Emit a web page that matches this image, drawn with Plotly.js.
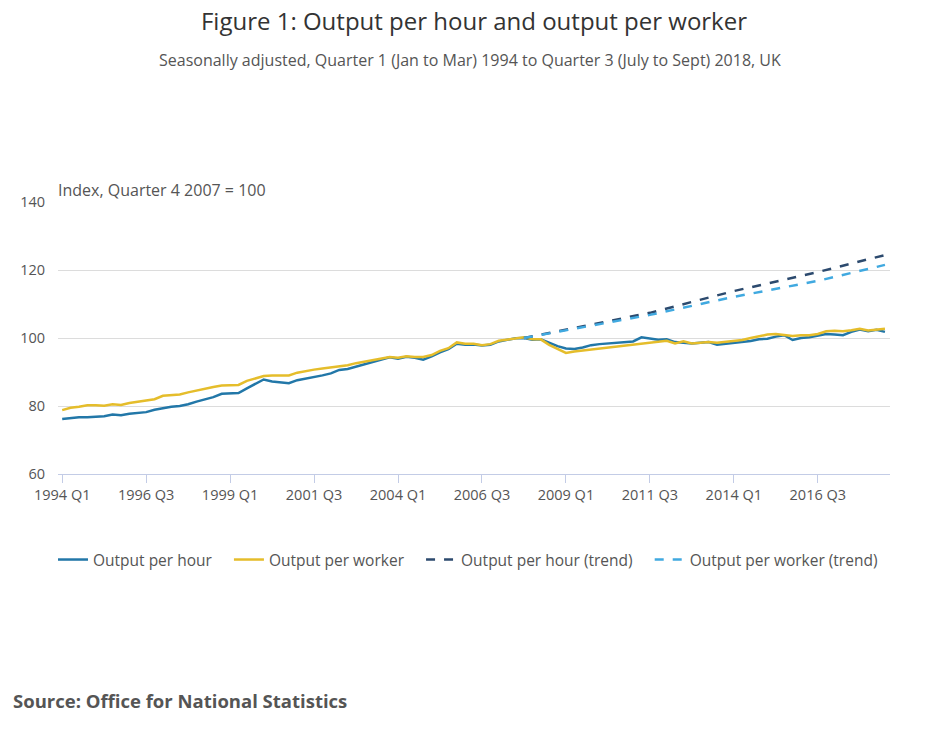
<!DOCTYPE html>
<html>
<head>
<meta charset="utf-8">
<script src="https://cdn.plot.ly/plotly-3.0.1.min.js"></script>
<style>
  html, body { margin: 0; padding: 0; background: #fff; }
  #chart { width: 941px; height: 738px; }
</style>
</head>
<body>
<div id="chart"></div>
<script>
// Quarter categories, 1994 Q1 to 2018 Q3
const startYear = 1994;
const quarters = [];
for (let y = startYear; y <= 2018; y++) {
  for (let q = 1; q <= 4; q++) {
    if (y === 2018 && q > 3) break;
    quarters.push(y + " Q" + q);
  }
}

const tickLabels = ["1994 Q1", "1996 Q3", "1999 Q1", "2001 Q3", "2004 Q1",
                    "2006 Q3", "2009 Q1", "2011 Q3", "2014 Q1", "2016 Q3"];

// Index, Quarter 4 2007 = 100
const outputPerHour = [
  76.2, 76.5, 76.7, 76.7, 76.9, 77.0, 77.5, 77.3, 77.7, 77.9,
  78.2, 78.9, 79.4, 79.8, 80.0, 80.5, 81.3, 82.0, 82.6, 83.6,
  83.7, 83.8, 85.2, 86.5, 87.8, 87.2, 87.0, 86.7, 87.6, 88.0,
  88.5, 89.0, 89.6, 90.6, 90.9, 91.6, 92.3, 93.0, 93.6, 94.3,
  93.9, 94.5, 94.2, 93.6, 94.6, 95.8, 96.7, 98.3, 98.0, 98.1,
  97.8, 98.0, 99.0, 99.4, 99.9, 100.0, 99.5, 99.6, 98.6, 97.6,
  96.9, 96.8, 97.2, 97.9, 98.2, 98.4, 98.6, 98.6, 99.0, 100.2,
  99.8, 99.5, 99.6, 98.8, 98.6, 98.4, 98.6, 98.8, 98.0, 98.3,
  98.6, 98.7, 99.1, 99.6, 99.8, 100.4, 100.8, 99.4, 100.0, 100.2,
  100.6, 101.2, 101.0, 100.8, 101.8, 102.5, 102.0, 102.4, 101.8
];

const outputPerWorker = [
  78.8, 79.5, 79.8, 80.2, 80.2, 80.1, 80.5, 80.3, 80.9, 81.2,
  81.6, 82.0, 83.0, 83.2, 83.4, 84.0, 84.6, 85.2, 85.6, 86.0,
  86.1, 86.2, 87.4, 88.2, 88.8, 89.0, 89.0, 89.0, 89.8, 90.3,
  90.7, 91.0, 91.3, 91.7, 92.0, 92.6, 93.1, 93.6, 94.0, 94.4,
  94.2, 94.6, 94.4, 94.4, 95.0, 96.2, 97.0, 98.7, 98.3, 98.3,
  97.9, 98.2, 99.2, 99.6, 100.0, 100.2, 99.6, 99.6, 98.0, 96.8,
  95.6, 96.0, 96.3, 96.5, 96.9, 97.2, 97.6, 97.9, 98.1, 98.4,
  98.8, 98.9, 99.2, 98.4, 99.0, 98.4, 98.7, 98.8, 98.6, 98.8,
  99.1, 99.4, 100.0, 100.6, 101.0, 101.2, 101.0, 100.6, 100.8, 100.8,
  101.2, 102.0, 102.1, 102.0, 102.3, 102.7, 102.2, 102.5, 102.7
];

// Trend lines (read at labelled points)
const trendQuarters = ["2007 Q4", "2011 Q3", "2014 Q1", "2016 Q3", "2018 Q3"];
const trendPerHour   = [100.0, 107.4, 113.8, 119.4, 124.4];
const trendPerWorker = [100.0, 106.8, 112.1, 116.8, 121.5];

const seriesNames = ["Output per hour", "Output per worker",
                     "Output per hour (trend)", "Output per worker (trend)"];

const textColor = "#555555";
const font = "'Open Sans', 'Noto Sans', sans-serif";
const pad = "\u00a0\u00a0\u00a0";

const traces = [
  { x: quarters, y: outputPerHour, name: seriesNames[0] + pad, type: "scatter", mode: "lines",
    line: { color: "#2277a8", width: 2.5 } },
  { x: quarters, y: outputPerWorker, name: seriesNames[1] + pad, type: "scatter", mode: "lines",
    line: { color: "#e5bd2b", width: 2.5 } },
  { x: trendQuarters, y: trendPerHour, name: seriesNames[2] + pad, type: "scatter", mode: "lines",
    line: { color: "#2c4a6e", width: 2.5, dash: "dash" } },
  { x: trendQuarters, y: trendPerWorker, name: seriesNames[3], type: "scatter", mode: "lines",
    line: { color: "#40a9e0", width: 2.5, dash: "dash" } }
];

const layout = {
  width: 941, height: 738,
  paper_bgcolor: "#ffffff", plot_bgcolor: "#ffffff",
  font: { family: font, color: textColor, size: 14 },
  margin: { l: 58, r: 51, t: 202, b: 264 },
  showlegend: true,
  title: {
    text: "Figure 1: Output per hour and output per worker",
    font: { family: font, size: 24, color: "#333333" },
    x: 0.5, xref: "paper", xanchor: "center",
    y: 1 - 22 / 738, yref: "container", yanchor: "middle"
  },
  xaxis: {
    type: "category",
    categoryorder: "array",
    categoryarray: quarters,
    range: [-0.5, 98.6],
    tickmode: "array",
    tickvals: tickLabels,
    ticktext: tickLabels,
    ticks: "outside", ticklen: 8, tickcolor: "#c3cce6", tickwidth: 1,
    showline: true, linecolor: "#c3cce6", linewidth: 1,
    showgrid: false, zeroline: false,
    tickfont: { size: 14.5, color: textColor, family: font },
    fixedrange: true
  },
  yaxis: {
    range: [60, 140],
    tickvals: [60, 80, 100, 120, 140],
    ticks: "", showline: false,
    showgrid: true, gridcolor: "#dcdcdc", gridwidth: 1,
    zeroline: false,
    tickfont: { size: 14.5, color: textColor, family: font },
    ticklabelstandoff: 12,
    fixedrange: true
  },
  legend: {
    orientation: "h",
    x: -5 / 832, xanchor: "left",
    y: -0.316, yanchor: "middle",
    font: { size: 15.5, color: textColor, family: font },
    itemwidth: 30,
    traceorder: "normal"
  },
  annotations: [
    { text: "Seasonally adjusted, Quarter 1 (Jan to Mar) 1994 to Quarter 3 (July to Sept) 2018, UK",
      xref: "paper", yref: "paper", x: 0.5 + (470 - 474) / 832, y: 1 + (202 - 60) / 272,
      xanchor: "center", yanchor: "middle", showarrow: false,
      font: { size: 16, color: textColor, family: font } },
    { text: "Index, Quarter 4 2007 = 100",
      xref: "paper", yref: "paper", x: -2 / 832, y: 1 + (202 - 190) / 272,
      xanchor: "left", yanchor: "middle", showarrow: false,
      font: { size: 16, color: textColor, family: font } },
    { text: "<b>Source: Office for National Statistics</b>",
      xref: "paper", yref: "paper", x: (11 - 58) / 832, y: 1 + (202 - 700) / 272,
      xanchor: "left", yanchor: "middle", showarrow: false,
      font: { size: 18.5, color: textColor, family: font } }
  ]
};

Plotly.newPlot("chart", traces, layout, { displayModeBar: false, staticPlot: true });
</script>
</body>
</html>
